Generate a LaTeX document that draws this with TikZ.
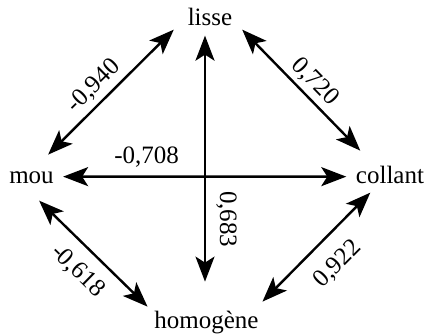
\documentclass[tikz,border=0pt]{standalone}
\usepackage{fontspec}
\setmainfont{Liberation Serif}
\usetikzlibrary{arrows.meta}

\begin{document}
\begin{tikzpicture}[x=0.5pt, y=-0.5pt,
    every node/.style={font=\fontsize{12.5}{14}\selectfont, inner sep=0pt, anchor=base},
    link/.style={{Stealth[length=12.5pt, width=9.5pt, inset=3pt]}-{Stealth[length=12.5pt, width=9.5pt, inset=3pt]}, line width=1.2pt},
    coef/.style={inner sep=#1}]
        \useasboundingbox (0,0) rectangle (424,333);
        \node (lisse) at (210,25) {lisse};
        \node (mou) at (31.5,183) {mou};
        \node (collant) at (390,183) {collant};
        \node (homogene) at (206.5,328) {homogène};
        \draw[link] ([shift={(-13.6,4)}]lisse.south west) -- ([shift={(-6,-16.2)}]mou.north east)
            node[coef=2.5pt, pos=0.545, sloped, anchor=south] (c1) {-0,940};
        \draw[link] ([shift={(9.6,4)}]lisse.south east) -- ([shift={(4.7,-14.6)}]collant.north west)
            node[coef=2pt, pos=0.52, sloped, anchor=south] (c2) {0,720};
        \draw[link] ([shift={(-5,10)}]lisse.south) -- ([shift={(-1.5,-28.6)}]homogene.north)
            node[coef=5pt, pos=0.746, rotate=-90, anchor=south] (c3) {0,683};
        \draw[link] ([shift={(9,-0.6)}]mou.east) -- ([shift={(-9.3,2.2)}]collant.west)
            node[coef=4.2pt, pos=0.295, anchor=south] (c4) {-0,708};
        \draw[link] ([shift={(-15,17)}]mou.south east) -- ([shift={(-6.5,-3.6)}]homogene.north west)
            node[coef=6pt, pos=0.506, sloped, anchor=north] (c5) {-0,618};
        \draw[link] ([shift={(14.7,9)}]collant.south west) -- ([shift={(3.5,-8.6)}]homogene.north east)
            node[coef=8pt, pos=0.48, sloped, anchor=north] (c6) {0,922};
      \end{tikzpicture}
\end{document}
